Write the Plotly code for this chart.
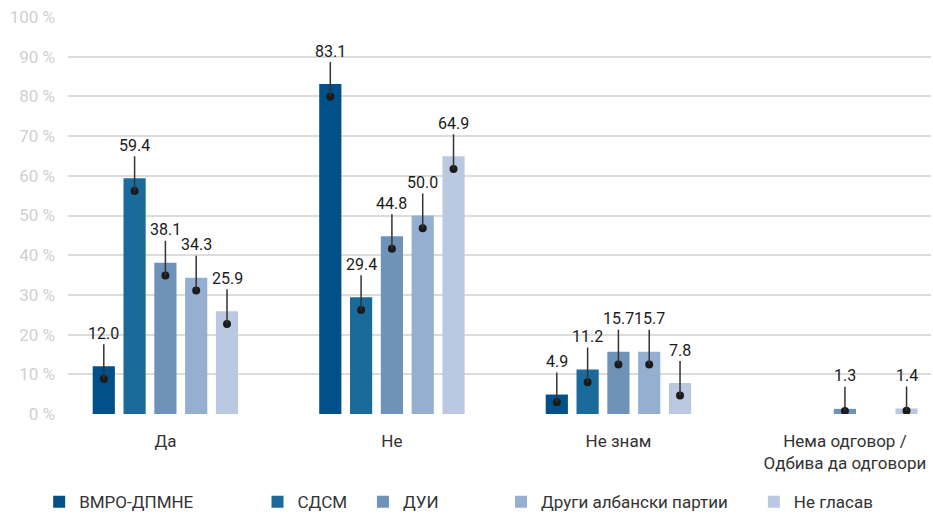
import plotly.graph_objects as go

CATEGORIES = ["Да", "Не", "Не знам", "Нема одговор /<br>Одбива да одговори"]
SERIES = ["ВМРО-ДПМНЕ", "СДСМ", "ДУИ", "Други албански партии", "Не гласав"]
VALUES = [
    [12.0, 83.1, 4.9, None],
    [59.4, 29.4, 11.2, None],
    [38.1, 44.8, 15.7, 1.3],
    [34.3, 50.0, 15.7, None],
    [25.9, 64.9, 7.8, 1.4],
]
Y_TICKS = [0, 10, 20, 30, 40, 50, 60, 70, 80, 90, 100]

COLORS = ["#02508a", "#1b6a9c", "#6e92b8", "#94afcf", "#bac9e1"]
LEGEND_X = [0.042, 0.276, 0.389, 0.537, 0.808]

FONT = "Roboto, 'Noto Sans', sans-serif"
BARGAP = 0.32
N = len(SERIES)
PX_PER_UNIT = 397 / 100  # plot height / y range

fig = go.Figure()
layout_legends = {}

for i, (name, vals) in enumerate(zip(SERIES, VALUES)):
    leg = "legend" if i == 0 else f"legend{i+1}"
    fig.add_trace(go.Bar(
        x=list(range(len(CATEGORIES))), y=vals, name=name,
        marker=dict(color=COLORS[i], line=dict(width=0)),
        legend=leg, hoverinfo="skip",
    ))
    layout_legends[leg] = dict(
        x=LEGEND_X[i], y=0.023, xref="container", yref="container",
        xanchor="left", yanchor="middle", orientation="h",
        font=dict(family=FONT, size=17, color="#333333"),
        bgcolor="rgba(0,0,0,0)", itemwidth=30, tracegroupgap=0,
    )

    # callout labels: dot inside the bar, line up to the value
    offset = -(1 - BARGAP) / 2 + (i + 0.5) * (1 - BARGAP) / N
    dx, dy = [], []
    for c, v in enumerate(vals):
        if v is None:
            continue
        xc = c + offset
        yd = max(v - 3.2, v * 0.6)
        dx.append(xc)
        dy.append(yd)
        fig.add_annotation(
            x=xc, y=yd, text=f"{v:.1f}", showarrow=True, arrowhead=0,
            arrowwidth=1.5, arrowcolor="#333333", ax=0,
            ay=-(33 + (v - yd) * PX_PER_UNIT),
            font=dict(family=FONT, size=16, color="#1a1a1a"),
        )
    fig.add_trace(go.Scatter(
        x=dx, y=dy, mode="markers", showlegend=False, hoverinfo="skip",
        marker=dict(color="#1a1a1a", size=8),
    ))

fig.update_layout(
    width=933, height=514,
    margin=dict(l=68, r=2, t=17, b=100),
    plot_bgcolor="white", paper_bgcolor="white",
    barmode="group", bargap=BARGAP, bargroupgap=0.28,
    font=dict(family=FONT, color="#333333"),
    **layout_legends,
)
fig.update_xaxes(
    tickmode="array", tickvals=list(range(len(CATEGORIES))), ticktext=CATEGORIES,
    range=[-0.43, 3.38], showgrid=False, zeroline=False, showline=False,
    tickfont=dict(family=FONT, size=17, color="#333333"), ticks="",
    automargin=False, ticklabelstandoff=15,
)
fig.update_yaxes(
    range=[0, 100], tickvals=Y_TICKS, ticktext=[f"{t} %" for t in Y_TICKS],
    showgrid=True, gridcolor="#dcdcdc", gridwidth=2, zeroline=False,
    tickfont=dict(family=FONT, size=17, color="#d0d0d0"), ticklabelstandoff=12,
    automargin=False,
)

# drop the page's default body margin so the figure sits at the window's corner
fig.write_html("out.html", config={"displayModeBar": False},
               post_script="document.body.style.margin='0';")
